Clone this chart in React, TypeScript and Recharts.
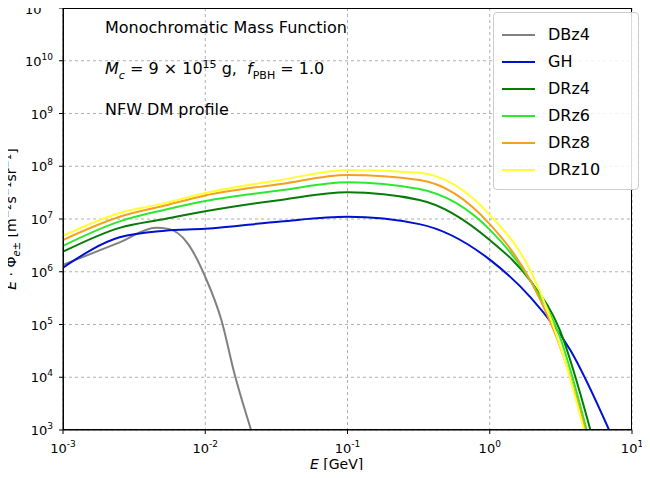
import React from 'react';
import { LineChart, Line, XAxis, YAxis, CartesianGrid } from 'recharts';

const xTicks = [1e-3, 1e-2, 1e-1, 1, 10];
const yTicks = [1e3, 1e4, 1e5, 1e6, 1e7, 1e8, 1e9, 1e10, 1e11];

const dbz4 = [
  { e: 1e-3, f: 1.35e6 }, { e: 2.5e-3, f: 3.6e6 }, { e: 4.5e-3, f: 6.8e6 }, { e: 5.5e-3, f: 6.5e6 },
  { e: 7.5e-3, f: 3.5e6 }, { e: 1e-2, f: 8e5 }, { e: 1.3e-2, f: 1.2e5 }, { e: 1.6e-2, f: 1.2e4 },
  { e: 2.1e-2, f: 1e3 },
];
const gh = [
  { e: 1e-3, f: 1.2e6 }, { e: 2.5e-3, f: 4.5e6 }, { e: 5.2e-3, f: 6e6 }, { e: 1e-2, f: 6.5e6 },
  { e: 3.4e-2, f: 9e6 }, { e: 0.1, f: 1.1e7 }, { e: 0.32, f: 8e6 }, { e: 1, f: 1.7e6 },
  { e: 1.95, f: 3.2e5 }, { e: 3.7, f: 3.2e4 }, { e: 6.9, f: 1e3 },
];
const drz4 = [
  { e: 1e-3, f: 2.4e6 }, { e: 2.5e-3, f: 6.8e6 }, { e: 5.2e-3, f: 1e7 }, { e: 1e-2, f: 1.4e7 },
  { e: 3.4e-2, f: 2.3e7 }, { e: 0.1, f: 3.2e7 }, { e: 0.32, f: 2.3e7 }, { e: 1, f: 4e6 },
  { e: 1.95, f: 6.5e5 }, { e: 3.1, f: 8e4 }, { e: 5.1, f: 1e3 },
];
const drz6 = [
  { e: 1e-3, f: 3.1e6 }, { e: 2.5e-3, f: 9e6 }, { e: 5.2e-3, f: 1.5e7 }, { e: 1e-2, f: 2.2e7 },
  { e: 3.4e-2, f: 3.5e7 }, { e: 0.1, f: 5e7 }, { e: 0.32, f: 3.7e7 }, { e: 1, f: 6.3e6 },
  { e: 1.95, f: 6.5e5 }, { e: 3.1, f: 6e4 }, { e: 4.8, f: 1e3 },
];
const drz8 = [
  { e: 1e-3, f: 4e6 }, { e: 2.5e-3, f: 1.1e7 }, { e: 5.2e-3, f: 1.8e7 }, { e: 1e-2, f: 2.8e7 },
  { e: 3.4e-2, f: 4.6e7 }, { e: 0.1, f: 6.8e7 }, { e: 0.32, f: 5.5e7 }, { e: 1, f: 8e6 },
  { e: 1.95, f: 6.5e5 }, { e: 3.3, f: 2.5e4 }, { e: 4.7, f: 1e3 },
];
const drz10 = [
  { e: 1e-3, f: 4.8e6 }, { e: 2.5e-3, f: 1.3e7 }, { e: 5.2e-3, f: 2e7 }, { e: 1e-2, f: 3.1e7 },
  { e: 3.4e-2, f: 5.5e7 }, { e: 0.1, f: 8.5e7 }, { e: 0.32, f: 7.5e7 }, { e: 1, f: 1.2e7 },
  { e: 1.95, f: 1e6 }, { e: 3.3, f: 2.5e4 }, { e: 4.6, f: 1e3 },
];

const series = [
  { name: 'DBz4', data: dbz4, color: '#808080' },
  { name: 'GH', data: gh, color: '#0010d0' },
  { name: 'DRz4', data: drz4, color: '#087a08' },
  { name: 'DRz6', data: drz6, color: '#2ee82e' },
  { name: 'DRz8', data: drz8, color: '#f5a01e' },
  { name: 'DRz10', data: drz10, color: '#ffff33' },
];

const font = 'DejaVu Sans, sans-serif';

function PowTick(props: any) {
  const { x, y, payload, axis } = props;
  const exp = Math.round(Math.log10(payload.value));
  if (axis === 'x') {
    return (
      <text x={x} y={y + 17} textAnchor="middle" fontSize={13} fontFamily={font} fill="#000">
        10<tspan dy={-6} fontSize={9}>{exp}</tspan>
      </text>
    );
  }
  return (
    <text x={x - 4} y={y + 5} textAnchor="end" fontSize={13} fontFamily={font} fill="#000">
      10<tspan dy={-6} fontSize={9}>{exp}</tspan>
    </text>
  );
}

export default function App() {
  return (
    <div style={{ position: 'relative', width: 650, height: 478, margin: -8, background: '#fff', fontFamily: font }}>
      <LineChart width={650} height={478} margin={{ top: 8, right: 18, bottom: 18, left: 8 }} style={{ overflow: 'visible' }}>
        <CartesianGrid stroke="#b0b0b0" strokeDasharray="3 3" />
        <XAxis
          type="number" dataKey="e" scale="log" domain={[1e-3, 10]} ticks={xTicks}
          allowDataOverflow height={30} tick={(p: any) => <PowTick {...p} axis="x" />}
          tickSize={4} stroke="#000"
        />
        <YAxis
          type="number" dataKey="f" scale="log" domain={[1e3, 1e11]} ticks={yTicks}
          allowDataOverflow width={55} tick={(p: any) => <PowTick {...p} axis="y" />}
          tickSize={4} stroke="#000"
        />
        {series.map((s) => (
          <Line
            key={s.name} data={s.data} dataKey="f" name={s.name} type="monotone"
            stroke={s.color} strokeWidth={2} dot={false} isAnimationActive={false}
          />
        ))}
      </LineChart>
      <div style={{ position: 'absolute', left: 63, top: 8, width: 569, height: 422, border: '1px solid #000', boxSizing: 'border-box', pointerEvents: 'none' }} />
      <div style={{ position: 'absolute', left: 105, top: 18, fontSize: 16 }}>Monochromatic Mass Function</div>
      <div style={{ position: 'absolute', left: 105, top: 58, fontSize: 16 }}>
        <i>M</i><sub style={{ fontSize: 11 }}><i>c</i></sub> = 9 × 10<sup style={{ fontSize: 11 }}>15</sup> g,&nbsp; <i>f</i><sub style={{ fontSize: 11 }}>PBH</sub> = 1.0
      </div>
      <div style={{ position: 'absolute', left: 105, top: 100, fontSize: 16 }}>NFW DM profile</div>
      <div style={{ position: 'absolute', left: 493, top: 12, width: 146, height: 178, border: '1px solid #ccc', borderRadius: 4, background: 'rgba(255,255,255,0.85)', boxSizing: 'border-box' }}>
        {series.map((s, i) => (
          <div key={s.name} style={{ position: 'absolute', left: 8, top: 12 + i * 27, display: 'flex', alignItems: 'center', fontSize: 16 }}>
            <div style={{ width: 33, height: 2, background: s.color, marginRight: 13 }} />
            {s.name}
          </div>
        ))}
      </div>
      <div style={{ position: 'absolute', left: 310, top: 456, fontSize: 14 }}><i>E</i> [GeV]</div>
      <div style={{ position: 'absolute', left: 12, top: 219, fontSize: 14, transform: 'translate(-50%,-50%) rotate(-90deg)', whiteSpace: 'nowrap', transformOrigin: 'center' }}>
        <i>E</i> · Φ<sub style={{ fontSize: 10 }}><i>e</i>±</sub> [m<sup style={{ fontSize: 10 }}>−2</sup>s<sup style={{ fontSize: 10 }}>−1</sup>sr<sup style={{ fontSize: 10 }}>−1</sup>]
      </div>
    </div>
  );
}
